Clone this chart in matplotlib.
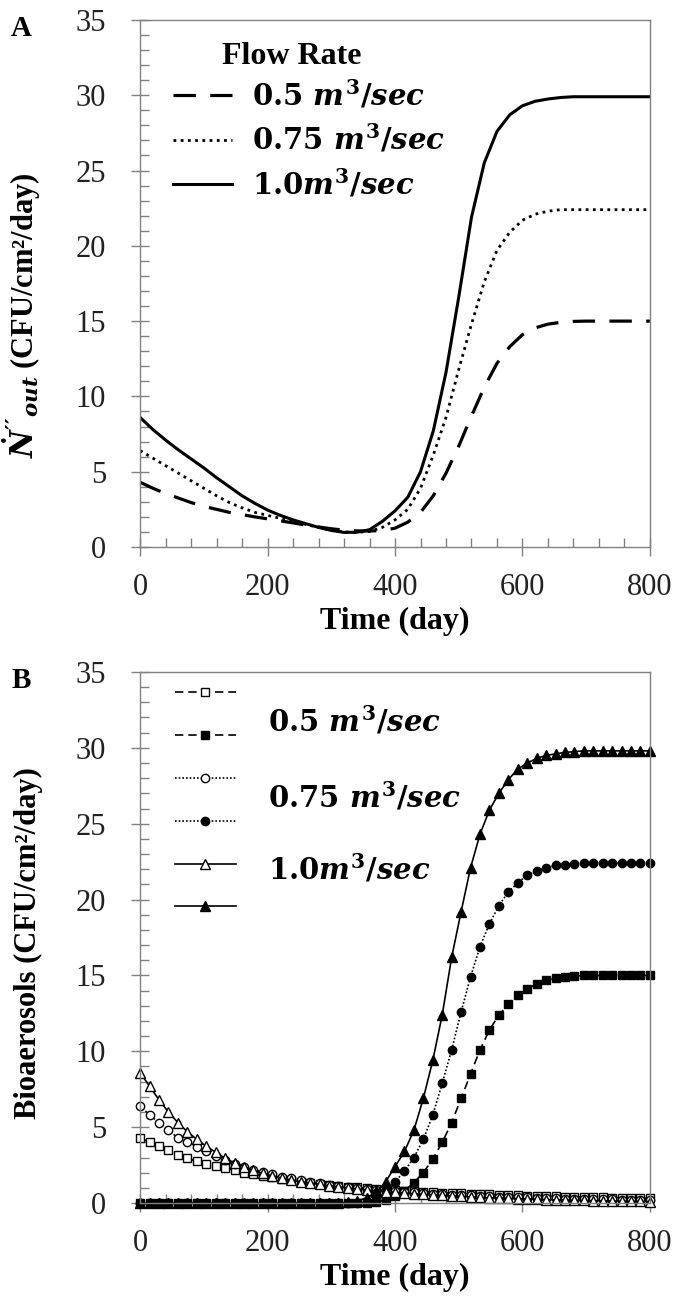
import numpy as np
import matplotlib.pyplot as plt
from matplotlib.ticker import MultipleLocator

plt.rcParams.update({
    "font.family": "serif",
    "font.serif": ["Liberation Serif", "DejaVu Serif"],
    "mathtext.fontset": "custom",
    "mathtext.rm": "DejaVu Serif:bold",
    "mathtext.it": "DejaVu Serif:italic:bold",
    "mathtext.bf": "DejaVu Serif:bold",
})

flow_labels = [r"$0.5\ m^3/sec$", r"$0.75\ m^3/sec$", r"$1.0m^3/sec$"]

# Panel A: total output, sampled every 20 days
time_a = np.arange(0, 801, 20)
out_05 = [4.3, 3.9, 3.55, 3.25, 2.95, 2.7, 2.5, 2.3, 2.15, 2.0,
          1.87, 1.74, 1.6, 1.46, 1.33, 1.21, 1.12, 1.07, 1.06, 1.1,
          1.25, 1.65, 2.3, 3.4, 4.9, 6.7, 8.7, 10.6, 12.2, 13.3,
          14.1, 14.55, 14.8, 14.92, 14.98, 15.0, 15.0, 15.0, 15.0, 15.0, 15.0]
out_075 = [6.4, 5.9, 5.4, 4.9, 4.4, 3.9, 3.4, 2.95, 2.6, 2.3,
           2.1, 1.9, 1.7, 1.5, 1.3, 1.12, 1.0, 0.97, 1.03, 1.3,
           1.8, 2.5, 3.9, 6.1, 8.6, 11.8, 14.8, 17.6, 19.7, 20.9,
           21.7, 22.1, 22.3, 22.4, 22.4, 22.4, 22.4, 22.4, 22.4, 22.4, 22.4]
out_10 = [8.6, 7.8, 7.1, 6.45, 5.85, 5.25, 4.6, 4.0, 3.4, 2.9,
          2.45, 2.1, 1.8, 1.55, 1.3, 1.1, 0.97, 0.98, 1.15, 1.7,
          2.4, 3.3, 5.0, 7.7, 11.6, 16.6, 21.9, 25.5, 27.6, 28.7,
          29.3, 29.6, 29.75, 29.85, 29.9, 29.9, 29.9, 29.9, 29.9, 29.9, 29.9]

# Panel B: bioaerosol components (open = decaying, filled = growing)
time_b = np.linspace(0, 800, 55)
open_05 = [4.3, 4.0, 3.75, 3.5, 3.2, 2.95, 2.75, 2.6, 2.45, 2.3,
           2.15, 2.0, 1.9, 1.8, 1.7, 1.6, 1.5, 1.42, 1.35, 1.28,
           1.21, 1.15, 1.09, 1.03, 0.98, 0.93, 0.89, 0.85, 0.81, 0.78,
           0.75, 0.72, 0.69, 0.66, 0.64, 0.61, 0.59, 0.57, 0.55, 0.53,
           0.51, 0.49, 0.47, 0.46, 0.44, 0.43, 0.41, 0.40, 0.38, 0.37,
           0.36, 0.35, 0.34, 0.33, 0.32]
open_075 = [6.4, 5.8, 5.3, 4.8, 4.3, 4.0, 3.7, 3.4, 3.1, 2.85,
            2.6, 2.4, 2.2, 2.05, 1.9, 1.75, 1.62, 1.5, 1.4, 1.3,
            1.22, 1.14, 1.07, 1.0, 0.94, 0.88, 0.83, 0.78, 0.74, 0.70,
            0.66, 0.62, 0.59, 0.56, 0.53, 0.50, 0.47, 0.45, 0.43, 0.41,
            0.39, 0.37, 0.35, 0.33, 0.31, 0.30, 0.28, 0.27, 0.26, 0.25,
            0.24, 0.23, 0.22, 0.21, 0.20]
open_10 = [8.6, 7.7, 6.8, 6.0, 5.3, 4.7, 4.2, 3.75, 3.35, 2.95,
           2.65, 2.4, 2.15, 1.95, 1.8, 1.65, 1.52, 1.42, 1.32, 1.23,
           1.15, 1.07, 1.0, 0.93, 0.87, 0.81, 0.76, 0.71, 0.66, 0.62,
           0.58, 0.54, 0.50, 0.47, 0.44, 0.41, 0.38, 0.35, 0.33, 0.31,
           0.29, 0.27, 0.25, 0.23, 0.21, 0.20, 0.18, 0.17, 0.16, 0.15,
           0.14, 0.13, 0.12, 0.11, 0.10]
filled_05 = [0.0] * 25 + [0.05, 0.2, 0.45, 0.8, 1.35, 2.0, 2.9, 4.0, 5.3, 6.9,
                          8.5, 10.1, 11.4, 12.4, 13.1, 13.7, 14.1, 14.45, 14.7, 14.8,
                          14.9, 14.95, 15.0, 15.0, 15.0, 15.0, 15.0, 15.0, 15.0, 15.0]
filled_075 = [0.0] * 24 + [0.1, 0.3, 0.8, 1.4, 2.1, 3.0, 4.2, 5.8, 7.9, 10.1,
                           12.6, 14.9, 16.9, 18.4, 19.6, 20.5, 21.1, 21.6, 21.9, 22.1,
                           22.25, 22.3, 22.35, 22.4, 22.4, 22.4, 22.4, 22.4, 22.4, 22.4, 22.4]
filled_10 = [0.0] * 22 + [0.05, 0.15, 0.35, 0.7, 1.4, 2.4, 3.4, 4.8, 6.9, 9.4,
                          12.4, 16.2, 19.2, 22.1, 24.3, 25.9, 27.0, 27.9, 28.6, 29.0,
                          29.3, 29.5, 29.6, 29.7, 29.75, 29.8, 29.8, 29.8, 29.8, 29.8,
                          29.8, 29.8, 29.8]

fig = plt.figure(figsize=(6.77, 13.03), dpi=100)
ax_a = fig.add_axes([0.207, 0.5802, 0.753, 0.4045])
ax_b = fig.add_axes([0.207, 0.0767, 0.753, 0.4076])

grey = '#808080'
for ax in (ax_a, ax_b):
    ax.set_xlim(0, 800)
    ax.set_ylim(0, 35)
    ax.xaxis.set_major_locator(MultipleLocator(200))
    ax.xaxis.set_minor_locator(MultipleLocator(40))
    ax.yaxis.set_major_locator(MultipleLocator(5))
    ax.yaxis.set_minor_locator(MultipleLocator(1))
    ax.tick_params(which='major', direction='inout', length=13, width=1,
                   color=grey, labelsize=22, labelcolor='#222222')
    ax.tick_params(axis='x', which='major', pad=12)
    ax.tick_params(axis='y', which='major', pad=18)
    ax.tick_params(which='minor', direction='in', length=6.5, width=1, color=grey)
    for sp in ax.spines.values():
        sp.set_color(grey)
        sp.set_linewidth(1)
    ax.set_xlabel('Time (day)', fontsize=23, fontweight='bold', labelpad=4)

# Panel A
ax_a.plot(time_a, out_05, color='black', lw=2.3, dashes=(7, 4.5), label=flow_labels[0])
ax_a.plot(time_a, out_075, color='black', lw=2.0, dashes=(1, 1.6), label=flow_labels[1])
ax_a.plot(time_a, out_10, color='black', lw=2.2, label=flow_labels[2])
ax_a.legend(loc='center left', bbox_to_anchor=(0.065, 0.773), frameon=False,
            fontsize=21, handlelength=2.0, handletextpad=0.7, labelspacing=0.41,
            borderpad=0, borderaxespad=0)
ax_a.text(0.16, 0.931, 'Flow Rate', transform=ax_a.transAxes, fontsize=23,
          fontweight='bold', va='center', ha='left')
ax_a.set_ylabel(r"$\dot{N}''_{out}$ (CFU/cm²/day)", fontsize=22, fontweight='bold')
ax_a.yaxis.set_label_coords(-0.19, 0.44)

# Panel B
series_b = [
    (open_05, 's', 'white', (5, 3)),
    (filled_05, 's', 'black', (5, 3)),
    (open_075, 'o', 'white', (1, 1.2)),
    (filled_075, 'o', 'black', (1, 1.2)),
    (open_10, '^', 'white', None),
    (filled_10, '^', 'black', None),
]
handles_b = []
for vals, mk, fc, ds in series_b:
    kw = dict(color='black', lw=1.2, marker=mk, markerfacecolor=fc,
              markeredgecolor='black', markeredgewidth=1,
              markersize=7 if mk == '^' else 6, clip_on=False)
    if ds is not None:
        kw['dashes'] = ds
    line, = ax_b.plot(time_b, vals, **kw)
    handles_b.append(line)

ax_b.legend(handles_b, [''] * 6, loc='upper left', bbox_to_anchor=(0.069, 0.975),
            frameon=False, fontsize=14, handlelength=3.1, handletextpad=0,
            labelspacing=1.3, borderpad=0, borderaxespad=0, numpoints=1)
for lab, yy in zip(flow_labels, [0.908, 0.765, 0.628]):
    ax_b.text(0.251, yy, lab, transform=ax_b.transAxes, va='center', fontsize=21)
ax_b.set_ylabel('Bioaerosols (CFU/cm²/day)', fontsize=22, fontweight='bold')
ax_b.yaxis.set_label_coords(-0.19, 0.49)

fig.text(0.032, 0.978, 'A', fontsize=21, fontweight='bold', va='center', ha='center')
fig.text(0.032, 0.478, 'B', fontsize=21, fontweight='bold', va='center', ha='center')

fig.savefig('out.png', dpi=100)
